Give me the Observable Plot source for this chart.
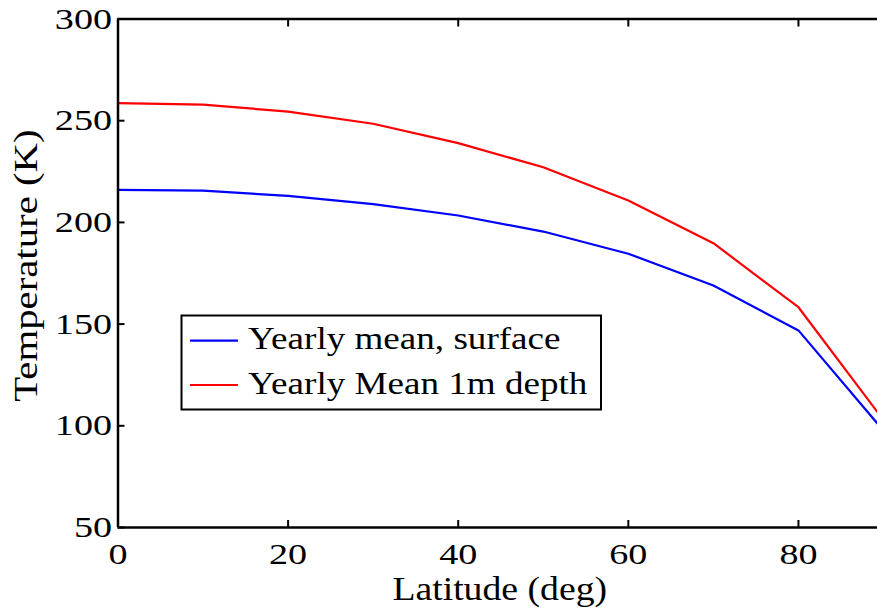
<!DOCTYPE html>
<html><head><meta charset="utf-8">
<script src="https://cdn.jsdelivr.net/npm/d3@7"></script>
<script src="https://cdn.jsdelivr.net/npm/@observablehq/plot@0.6"></script>
<style>
html,body{margin:0;padding:0;background:#fff;overflow:hidden;}
#wrap{position:relative;width:877px;height:614px;overflow:hidden;}
#wrap svg{position:absolute;left:0;top:0;}
</style></head><body><div id="wrap"></div>
<script>
// ---- data ----
const latitude = [0, 10, 20, 30, 40, 50, 60, 70, 80, 90];
const surfaceTemp = [216, 215.6, 213, 209, 203.4, 195.5, 184.6, 169, 146.9, 97.6];
const depthTemp = [258.6, 257.9, 254.5, 248.5, 239, 227.1, 210.8, 189.8, 158.3, 102.8];
const seriesNames = ["Yearly mean, surface", "Yearly Mean 1m depth"];
const seriesColors = ["#0000ff", "#ff0000"];
const xTicks = [0, 20, 40, 60, 80];
const yTicks = [50, 100, 150, 200, 250, 300];
const xLabel = "Latitude (deg)";
const yLabel = "Temperature (K)";

const rows = [];
latitude.forEach((lat, i) => {
  rows.push({lat, temp: surfaceTemp[i], series: seriesNames[0]});
  rows.push({lat, temp: depthTemp[i], series: seriesNames[1]});
});

const FONT = '"Liberation Serif","Times New Roman",serif';

const chart = Plot.plot({
  width: 877, height: 614,
  marginLeft: 117.5, marginRight: 0, marginTop: 18.5, marginBottom: 87,
  style: {fontFamily: FONT, background: "white", color: "black", overflow: "hidden"},
  x: {domain: [0, 90], range: [117.5, 883]},
  y: {domain: [50, 300], range: [527, 18.5]},
  color: {domain: seriesNames, range: seriesColors},
  marks: [
    Plot.line(rows, {x: "lat", y: "temp", stroke: "series", z: "series", strokeWidth: 2.2}),
    Plot.ruleX([0], {stroke: "black", strokeWidth: 2.5}),
    Plot.ruleX([90], {stroke: "black", strokeWidth: 2.5}),
    Plot.ruleY([50], {x1: 0, x2: 90, stroke: "black", strokeWidth: 2.5}),
    Plot.ruleY([300], {x1: 0, x2: 90, stroke: "black", strokeWidth: 2.5}),
    Plot.axisX({anchor: "bottom", ticks: xTicks, tickSize: -7, tickPadding: 22, fontSize: 30, strokeWidth: 2, label: null}),
    Plot.axisX({anchor: "top", ticks: xTicks.slice(1), tickSize: -7, tickFormat: () => "", strokeWidth: 2, label: null}),
    Plot.axisY({anchor: "left", ticks: yTicks, tickSize: -7, tickPadding: 13, fontSize: 30, strokeWidth: 2, label: null}),
    Plot.axisY({anchor: "right", ticks: yTicks.slice(1, -1), tickSize: -7, dx: 6, tickFormat: () => "", strokeWidth: 2, label: null}),
    Plot.text([xLabel], {frameAnchor: "bottom", textAnchor: "middle", dx: 2, dy: 62, lineAnchor: "middle", fontSize: 34}),
    Plot.text([yLabel], {frameAnchor: "left", textAnchor: "middle", rotate: -90, dx: -91.7, dy: -7.7, lineAnchor: "middle", fontSize: 34})
  ]
});

// horizontal stretch of the glyphs, as in the reference image
function stretch(sel, s) {
  sel.each(function() {
    const t = d3.select(this);
    const tr = t.attr("transform");
    if (tr) t.attr("transform", tr + ` scale(${s},1)`);
    else {
      const x = +t.attr("x") || 0, y = +t.attr("y") || 0;
      t.attr("x", null).attr("y", null).attr("transform", `translate(${x},${y}) scale(${s},1)`);
    }
  });
}
d3.select(chart).selectAll("text").each(function() {
  const txt = this.textContent;
  const s = txt === xLabel ? 1.11 : txt === yLabel ? 1.2 : 1.27;
  stretch(d3.select(this), s);
});

document.getElementById("wrap").appendChild(chart);

// legend box inside the plot
const leg = d3.select("#wrap").append("svg").attr("width", 877).attr("height", 614)
  .style("font-family", FONT);
leg.append("rect").attr("x", 181.5).attr("y", 315.5).attr("width", 419.5).attr("height", 94)
  .attr("fill", "white").attr("stroke", "black").attr("stroke-width", 2);
seriesNames.forEach((name, i) => {
  const ly = 340.7 + i * 44.3;
  leg.append("line").attr("x1", 190).attr("x2", 238).attr("y1", ly).attr("y2", ly)
    .attr("stroke", seriesColors[i]).attr("stroke-width", 2.2);
  leg.append("text").attr("transform", `translate(248,${349.3 + i * 44.5}) scale(1.16,1)`)
    .attr("font-size", 32).attr("fill", "black").text(name);
});
</script></body></html>
